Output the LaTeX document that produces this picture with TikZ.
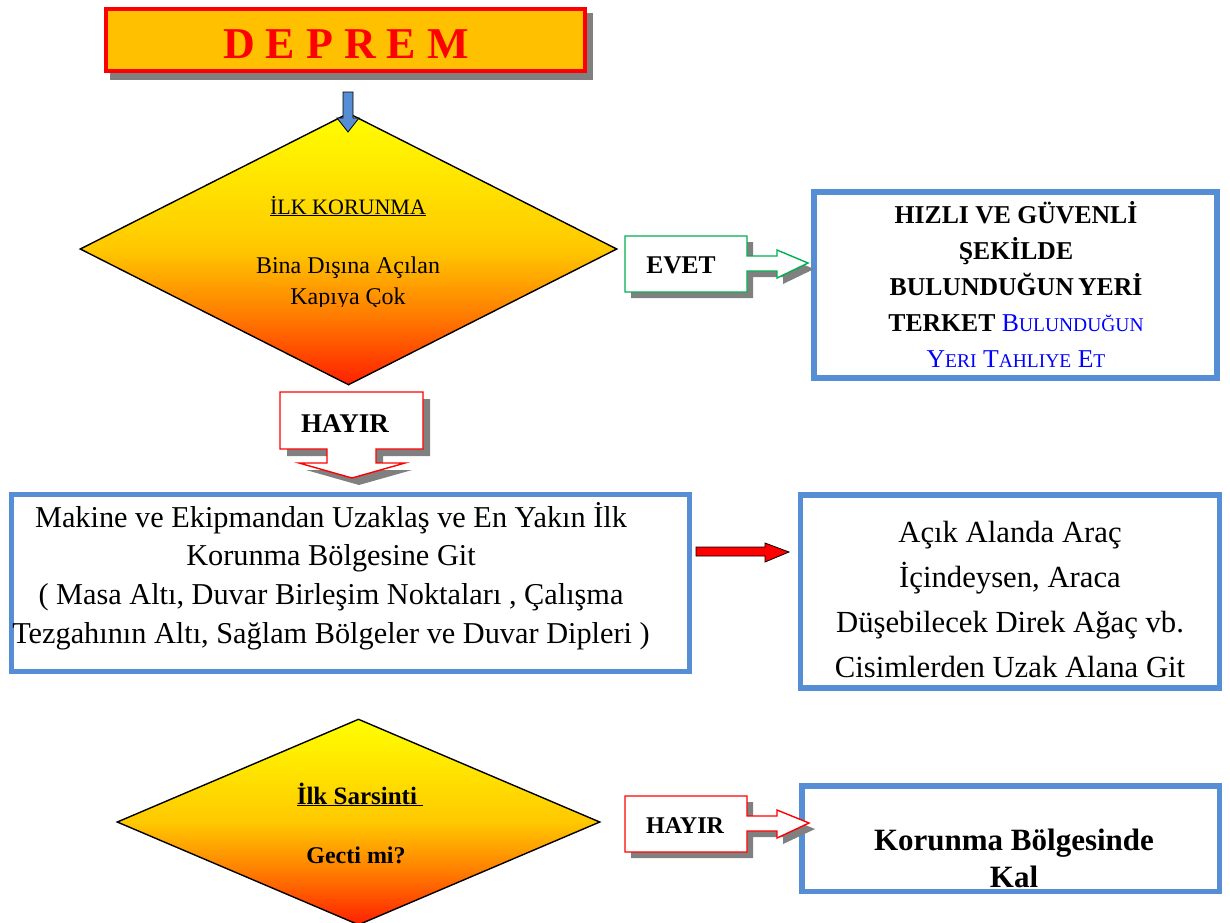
\documentclass[tikz,border=0pt]{standalone}
\usepackage{fontspec}
\setmainfont{Liberation Serif}
\usetikzlibrary{shapes.geometric}
\definecolor{bbord}{HTML}{558ED5}
\definecolor{gbord}{HTML}{00B050}
\definecolor{orfill}{HTML}{FFC000}
\definecolor{shad}{HTML}{808080}
\definecolor{dred}{HTML}{FF2000}
\definecolor{dor}{HTML}{FF7A00}
\definecolor{dmid}{HTML}{FFC800}
\definecolor{dyel}{HTML}{FFFF00}
\definecolor{smblue}{HTML}{0000FF}
\pgfdeclareverticalshading{dshade}{100bp}{color(0bp)=(dred); color(25bp)=(dred); color(37.5bp)=(dor); color(50bp)=(dmid); color(75bp)=(dyel); color(100bp)=(dyel)}
\newcommand\fs[2]{\fontsize{#1}{#2}\selectfont}
\newcommand\fsc[2]{#1{\fontsize{19.5}{19.5}\selectfont #2}}
\newcommand\mlines[1]{\begin{tabular}[t]{@{}c@{}}#1\end{tabular}}
\tikzset{
  bluebox/.style={draw=bbord, line width=5.5pt, fill=white, inner sep=0pt},
  dia/.style={diamond, shading=dshade, draw=black, line width=1.4pt, inner sep=0pt},
  shadowfill/.style={fill=shad, draw=none},
  callout/.style={fill=white, line width=1.4pt},
  blockarrow/.style={draw=black, line width=0.8pt},
}
\begin{document}
\begin{tikzpicture}[x=1pt,y=-1pt]
\useasboundingbox (0,0) rectangle (1230,922);

% title
\fill[shadowfill] (110,13) rectangle (593,80);
\node[draw=red, line width=4pt, fill=orfill, minimum width=479pt, minimum height=62pt, inner sep=0pt] (title) at (345.5,40) {};
\node[anchor=base, font=\fs{44}{44}\bfseries, text=red] (titletext) at (346,58) {D E P R E M};

% diamond 1
\node[dia, minimum width=537pt, minimum height=272pt] (d1) at (348.5,249) {};
\node[anchor=base, font=\fs{22}{22}] (d1a) at (348,214) {\underline{İLK KORUNMA}};
\node[anchor=base, font=\fs{24}{24}] (d1b) at (348,273) {Bina Dışına Açılan};
\begin{scope}
\clip (200,280) rectangle (500,306);
\node[anchor=base, font=\fs{24}{24}] (d1c) at (348,304) {Kapıya Çok};
\end{scope}

% blue arrow title -> diamond
\filldraw[fill=bbord, blockarrow] (343,92) -- (353,92) -- (353,118) -- (359,118) -- (348,132) -- (337,118) -- (343,118) -- cycle;

% right box 1
\node[bluebox, line width=6pt, minimum width=403pt, minimum height=186pt] (r1) at (1015.5,285) {};
\node[anchor=base, font=\fs{25.7}{36}\bfseries] (r1t) at (1016,223) {\mlines{HIZLI VE GÜVENLİ\\ ŞEKİLDE\\ BULUNDUĞUN\,YERİ\\ TERKET {\mdseries\color{smblue}\fsc{B}{ULUNDUĞUN}}\\ {\mdseries\color{smblue}\fsc{Y}{ERI} \fsc{T}{AHLIYE} \fsc{E}{T}}}};

% EVET callout
\fill[shadowfill] (631,242) -- (753,242) -- (753,262) -- (783,262) -- (783,256) -- (814,269) -- (783,284) -- (783,277) -- (753,277) -- (753,298) -- (631,298) -- cycle;
\draw[callout, draw=gbord] (625,236) -- (747,236) -- (747,256) -- (777,256) -- (777,250) -- (808,263) -- (777,278) -- (777,271) -- (747,271) -- (747,292) -- (625,292) -- cycle;
\node[anchor=base, font=\fs{25.5}{25.5}\bfseries] (evet) at (681,273) {EVET};

% HAYIR down callout
\fill[shadowfill] (287,399) -- (430,399) -- (430,456) -- (383,456) -- (383,470) -- (412,470) -- (359,485) -- (306,470) -- (334,470) -- (334,456) -- (287,456) -- cycle;
\draw[callout, draw=red] (280,392) -- (423,392) -- (423,449) -- (376,449) -- (376,463) -- (405,463) -- (352,478) -- (299,463) -- (327,463) -- (327,449) -- (280,449) -- cycle;
\node[anchor=base, font=\fs{27}{27}\bfseries] (hayir1) at (345,432) {HAYIR};

% middle box
\node[bluebox, minimum width=678pt, minimum height=177pt] (m) at (350.5,583) {};
\node[anchor=base, font=\fs{30.3}{38.7}] (mt) at (331,527) {\mlines{Makine ve Ekipmandan Uzaklaş ve En Yakın İlk\\ Korunma Bölgesine Git\\ ( Masa Altı, Duvar Birleşim Noktaları , Çalışma\\ Tezgahının Altı, Sağlam Bölgeler ve Duvar Dipleri )}};

% right box 2
\node[bluebox, minimum width=419pt, minimum height=193pt] (r2) at (1010,591.5) {};
\node[anchor=base, font=\fs{30.7}{45}] (r2t) at (1010,542) {\mlines{Açık Alanda Araç\\ İçindeysen, Araca\\ Düşebilecek Direk Ağaç vb.\\ Cisimlerden Uzak Alana Git}};

% red arrow middle -> right box 2
\filldraw[fill=red, blockarrow] (696,547) -- (765,547) -- (765,543) -- (789,552) -- (765,562) -- (765,556) -- (696,556) -- cycle;

% diamond 2
\node[dia, minimum width=483pt, minimum height=206pt] (d2) at (358.5,822) {};
\node[anchor=base, font=\fs{25}{25}\bfseries] (d2a) at (360,804) {\underline{İlk Sarsinti\ }};
\node[anchor=base, font=\fs{24}{24}\bfseries] (d2b) at (356,863) {Gecti mi?};

% right box 3
\node[bluebox, minimum width=417.5pt, minimum height=105.5pt] (r3) at (1010.5,838.5) {};
\node[anchor=base, font=\fs{31}{37}\bfseries] (r3t) at (1014,850) {\mlines{Korunma Bölgesinde\\ Kal}};

% HAYIR right callout
\fill[shadowfill] (631,802) -- (753,802) -- (753,822) -- (783,822) -- (783,816) -- (815,829) -- (783,844) -- (783,837) -- (753,837) -- (753,858) -- (631,858) -- cycle;
\draw[callout, draw=red] (625,796) -- (747,796) -- (747,816) -- (777,816) -- (777,810) -- (809,823) -- (777,838) -- (777,831) -- (747,831) -- (747,852) -- (625,852) -- cycle;
\node[anchor=base, font=\fs{24}{24}\bfseries] (hayir2) at (685,833) {HAYIR};
\end{tikzpicture}
\end{document}
